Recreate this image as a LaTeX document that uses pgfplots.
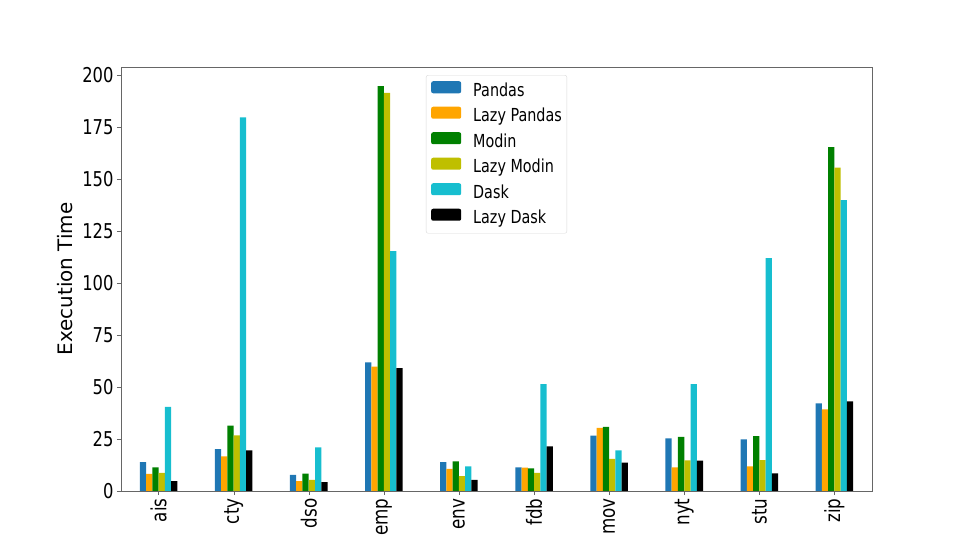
\documentclass[border=0pt]{standalone}
\usepackage{fontspec}
\setmainfont{DejaVu Sans}[FakeStretch=0.8]
\newfontfamily\labelfont{DejaVu Sans}
\usepackage{pgfplots}
\pgfplotsset{compat=1.18}
\definecolor{cPandas}{HTML}{1F77B4}
\definecolor{cLazyPandas}{HTML}{FFA500}
\definecolor{cModin}{HTML}{008000}
\definecolor{cLazyModin}{HTML}{BFBF00}
\definecolor{cDask}{HTML}{17BECF}
\definecolor{cLazyDask}{HTML}{000000}
\begin{document}
\begin{tikzpicture}
\path[use as bounding box] (-121bp,-62bp) rectangle (848bp,491bp);
\begin{axis}[
  scale only axis,
  width=751bp, height=424bp,
  at={(0,0)}, anchor=south west,
  xmin=-0.5, xmax=9.5, ymin=0, ymax=204,
  ybar, bar width=0.0833,
  xtick={0,...,9},
  xticklabels={ais,cty,dso,emp,env,fdb,mov,nyt,stu,zip},
  xticklabel style={rotate=90, anchor=east, font=\fontsize{21}{24}\selectfont},
  ytick={0,25,...,200},
  yticklabel style={font=\fontsize{20.5}{24}\selectfont},
  /pgf/number format/assume math mode=true,
  tick align=outside,
  major tick length=4bp,
  xtick pos=bottom, ytick pos=left,
  axis line style={black!60},
  tick style={black!60},
  ylabel={Execution Time},
  ylabel style={at={(axis description cs:-0.0739,0.5)}, anchor=center, font=\labelfont\fontsize{20}{24}\selectfont},
  legend style={at={(0.5,0.981)}, anchor=north, draw=black!15, rounded corners=2pt,
    font=\fontsize{18}{21}\selectfont, row sep=7bp, column sep=12bp,
    inner xsep=5bp, inner ysep=6bp,
    nodes={inner xsep=0pt, inner ysep=0pt, text height=12.5bp, text depth=3.5bp}},
  legend cell align=left,
  legend image code/.code={\fill[#1] (0bp,-1.5bp) rectangle (30bp,10.5bp);},
]
\addplot[fill=cPandas, draw=none, bar shift=-0.2083] coordinates {(0,13.9) (1,20.2) (2,7.7) (3,61.9) (4,13.9) (5,11.4) (6,26.6) (7,25.3) (8,24.8) (9,42.2)};
\addlegendentry{Pandas}
\addplot[fill=cLazyPandas, draw=none, bar shift=-0.125] coordinates {(0,8.2) (1,16.7) (2,4.8) (3,59.8) (4,10.6) (5,11.2) (6,30.4) (7,11.4) (8,11.9) (9,39.3)};
\addlegendentry{Lazy Pandas}
\addplot[fill=cModin, draw=none, bar shift=-0.0417] coordinates {(0,11.4) (1,31.4) (2,8.3) (3,194.8) (4,14.3) (5,10.9) (6,30.8) (7,26.0) (8,26.4) (9,165.5)};
\addlegendentry{Modin}
\addplot[fill=cLazyModin, draw=none, bar shift=0.0417] coordinates {(0,8.7) (1,26.8) (2,5.4) (3,191.5) (4,7.2) (5,8.7) (6,15.4) (7,14.7) (8,14.9) (9,155.6)};
\addlegendentry{Lazy Modin}
\addplot[fill=cDask, draw=none, bar shift=0.125] coordinates {(0,40.5) (1,179.8) (2,21.0) (3,115.4) (4,11.9) (5,51.4) (6,19.6) (7,51.4) (8,112.0) (9,139.9)};
\addlegendentry{Dask}
\addplot[fill=cLazyDask, draw=none, bar shift=0.2083] coordinates {(0,4.8) (1,19.6) (2,4.3) (3,59.1) (4,5.3) (5,21.5) (6,13.6) (7,14.6) (8,8.5) (9,43.1)};
\addlegendentry{Lazy Dask}
\end{axis}
\end{tikzpicture}
\end{document}
